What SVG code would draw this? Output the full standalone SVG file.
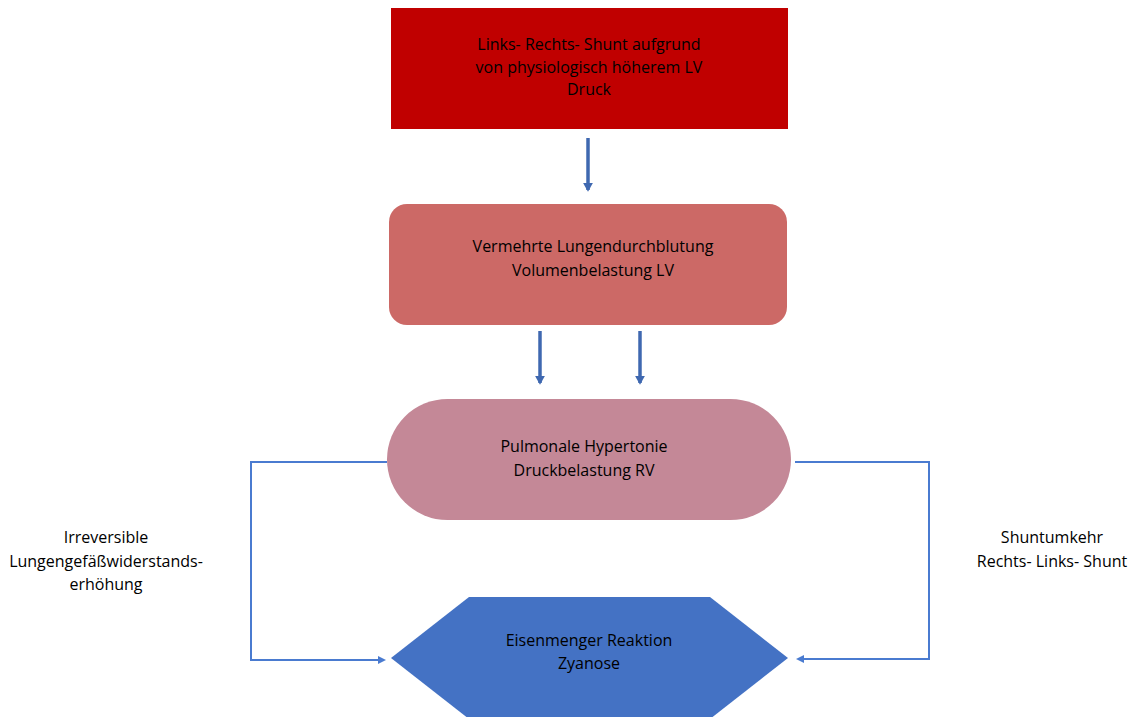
<svg xmlns="http://www.w3.org/2000/svg" width="1133" height="717" viewBox="0 0 1133 717">
<defs>
<style>
.t{font-family:"Open Sans","Liberation Sans",sans-serif;font-size:16px;fill:#000;text-anchor:middle}
.thick{stroke:#3F68B0;stroke-width:3.5;fill:none}
.thin{stroke:#4A7BD0;stroke-width:2;fill:none}
</style>
<marker id="ah" markerWidth="4" markerHeight="4" refX="2" refY="2" orient="auto" markerUnits="strokeWidth"><path d="M0,0.6 L2.5,2 L0,3.4 Z" fill="#3F68B0"/></marker>
<marker id="ah2" markerWidth="8" markerHeight="8" refX="6" refY="4" orient="auto" markerUnits="userSpaceOnUse"><path d="M0,0 L8,4 L0,8 Z" fill="#4A7BD0"/></marker>
</defs>
<rect width="1133" height="717" fill="#fff"/>
<g id="n1">
<rect x="391" y="8" width="397" height="121" fill="#C00000"/>
<text class="t" x="589" y="50">Links- Rechts- Shunt aufgrund</text>
<text class="t" x="589" y="73">von physiologisch höherem LV</text>
<text class="t" x="589" y="95">Druck</text>
</g>
<g id="n2">
<rect x="389" y="204" width="398" height="121" rx="18" fill="#CC6966"/>
<text class="t" x="593" y="252">Vermehrte Lungendurchblutung</text>
<text class="t" x="593" y="276">Volumenbelastung LV</text>
</g>
<g id="n3">
<rect x="387" y="399" width="404" height="121" rx="60.5" fill="#C48897"/>
<text class="t" x="584" y="452">Pulmonale Hypertonie</text>
<text class="t" x="584" y="476">Druckbelastung RV</text>
</g>
<g id="n4">
<polygon points="391,658 469,597 710,597 788,658 710,719 469,719" fill="#4472C4"/>
<text class="t" x="589" y="646">Eisenmenger Reaktion</text>
<text class="t" x="589" y="669">Zyanose</text>
</g>
<g id="labels">
<text class="t" x="106" y="543">Irreversible</text>
<text class="t" x="106" y="567">Lungengefäßwiderstands-</text>
<text class="t" x="106" y="590">erhöhung</text>
<text class="t" x="1052" y="543">Shuntumkehr</text>
<text class="t" x="1052" y="567">Rechts- Links- Shunt</text>
</g>
<g id="connectors">
<line class="thick" x1="588" y1="138" x2="588" y2="190" marker-end="url(#ah)"/>
<line class="thick" x1="540" y1="331" x2="540" y2="383" marker-end="url(#ah)"/>
<line class="thick" x1="640" y1="331" x2="640" y2="383" marker-end="url(#ah)"/>
<polyline class="thin" points="387,462 251,462 251,660 384,660" marker-end="url(#ah2)"/>
<polyline class="thin" points="795,462 929,462 929,659 798,659" marker-end="url(#ah2)"/>
</g>
</svg>
